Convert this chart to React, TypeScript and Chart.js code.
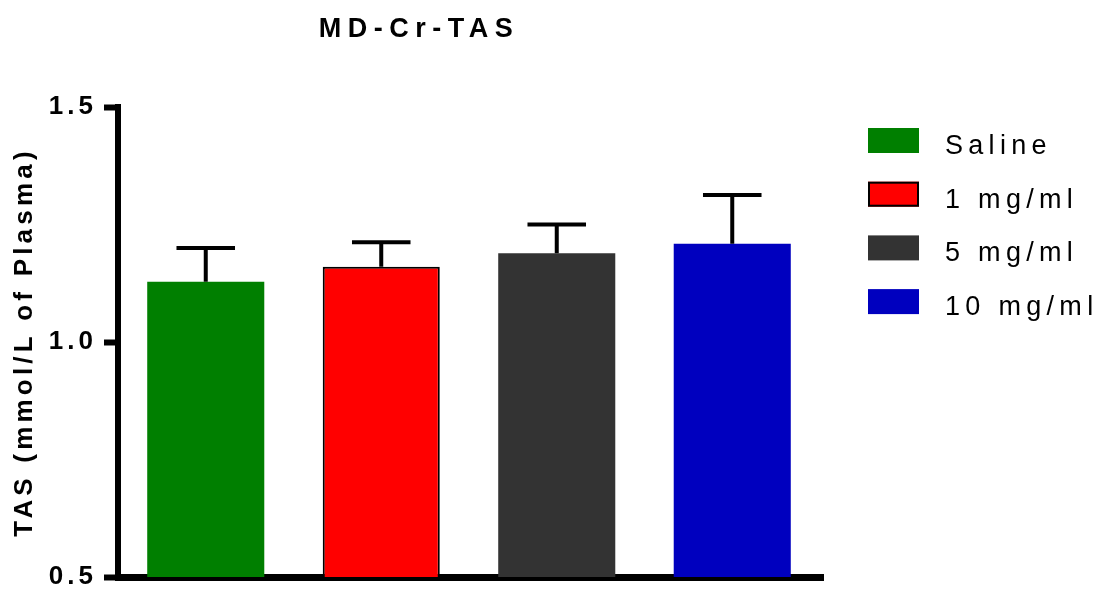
import React, { useEffect, useRef } from 'react';
import { Chart, registerables } from 'chart.js';

Chart.register(...registerables);

const titleText = 'MD-Cr-TAS';
const yAxisTitle = 'TAS (mmol/L of Plasma)';
const groups = ['Saline', '1 mg/ml', '5 mg/ml', '10 mg/ml'];
const means = [1.128, 1.16, 1.189, 1.209];
const sems = [0.072, 0.052, 0.061, 0.104];
const barColors = ['#007f00', '#ff0000', '#333333', '#0000bf'];
const barBorderWidths = [0, 2, 0, 0];
const yMin = 0.5;
const yMax = 1.5;
const yStep = 0.5;

const FONT = '"Liberation Sans", Arial, sans-serif';

const errorBarPlugin = {
  id: 'errorBars',
  afterDatasetsDraw(chart: any) {
    const ctx = chart.ctx;
    const y = chart.scales.y;
    const meta = chart.getDatasetMeta(0);
    ctx.save();
    ctx.strokeStyle = '#000';
    ctx.lineWidth = 4;
    ctx.lineCap = 'butt';
    meta.data.forEach((bar: any, i: number) => {
      const top = y.getPixelForValue(means[i]);
      const cap = y.getPixelForValue(means[i] + sems[i]);
      const half = bar.width * 0.25;
      ctx.beginPath();
      ctx.moveTo(bar.x, top);
      ctx.lineTo(bar.x, cap);
      ctx.moveTo(bar.x - half, cap);
      ctx.lineTo(bar.x + half, cap);
      ctx.stroke();
    });
    ctx.restore();
  },
};

const textPlugin = {
  id: 'customText',
  beforeDraw(chart: any) {
    (chart.ctx as any).letterSpacing = '4px';
  },
  afterDraw(chart: any) {
    const ctx = chart.ctx as any;
    ctx.letterSpacing = '0px';
    const area = chart.chartArea;

    // Title
    ctx.save();
    ctx.letterSpacing = '6.5px';
    ctx.font = `bold 27px ${FONT}`;
    ctx.fillStyle = '#000';
    ctx.textAlign = 'center';
    ctx.textBaseline = 'alphabetic';
    ctx.fillText(titleText, 419, 37);
    ctx.restore();

    // Y axis title
    ctx.save();
    ctx.letterSpacing = '4.2px';
    ctx.font = `bold 26px ${FONT}`;
    ctx.fillStyle = '#000';
    ctx.translate(32, (area.top + area.bottom) / 2);
    ctx.rotate(-Math.PI / 2);
    ctx.textAlign = 'center';
    ctx.textBaseline = 'alphabetic';
    ctx.fillText(yAxisTitle, 0, 0);
    ctx.restore();

    // Legend
    ctx.save();
    ctx.letterSpacing = '5.3px';
    ctx.font = `27px ${FONT}`;
    ctx.textAlign = 'left';
    ctx.textBaseline = 'alphabetic';
    groups.forEach((g, i) => {
      const top = 128 + i * 53.7;
      ctx.fillStyle = barColors[i];
      ctx.fillRect(868, top, 51, 25);
      if (barBorderWidths[i] > 0) {
        ctx.strokeStyle = '#000';
        ctx.lineWidth = barBorderWidths[i];
        ctx.strokeRect(868 + 1, top + 1, 49, 23);
      }
      ctx.fillStyle = '#000';
      ctx.fillText(g, 945, top + 26);
    });
    ctx.restore();
  },
};

export default function App() {
  const ref = useRef<HTMLCanvasElement | null>(null);
  useEffect(() => {
    if (!ref.current) return;
    const chart = new Chart(ref.current, {
      type: 'bar',
      data: {
        labels: groups,
        datasets: [
          {
            data: means,
            backgroundColor: barColors,
            borderColor: '#000',
            borderWidth: barBorderWidths,
            barPercentage: 0.667,
            categoryPercentage: 1,
          },
        ],
      },
      options: {
        responsive: false,
        animation: false,
        devicePixelRatio: 1,
        layout: { padding: { top: 107, right: 280, left: 0, bottom: 0 } },
        plugins: {
          legend: { display: false },
          title: { display: false },
          tooltip: { enabled: false },
        },
        scales: {
          x: {
            grid: { display: true, drawOnChartArea: false, drawTicks: false, lineWidth: 8, color: '#000' },
            border: { display: true, width: 7, color: '#000' },
            ticks: { display: false },
            afterFit: (s: any) => {
              s.height = 12;
              s.paddingLeft = 0;
              s.paddingRight = 0;
            },
          },
          y: {
            min: yMin,
            max: yMax,
            grid: {
              drawOnChartArea: false,
              drawTicks: true,
              tickLength: 14,
              tickWidth: 6,
              tickColor: '#000',
              lineWidth: 1,
            },
            border: { display: true, width: 6, color: '#000' },
            ticks: {
              stepSize: yStep,
              padding: 7,
              color: '#000',
              font: { family: FONT, size: 26, weight: 'bold' },
              callback: (v: any) => Number(v).toFixed(1),
            },
            afterFit: (s: any) => {
              s.width = 118;
              s.paddingTop = 0;
              s.paddingBottom = 0;
            },
          },
        },
      },
      plugins: [errorBarPlugin, textPlugin],
    } as any);
    return () => chart.destroy();
  }, []);
  return (
    <div style={{ position: 'absolute', left: 0, top: 0, width: 1100, height: 589 }}>
      <canvas ref={ref} width={1100} height={589} style={{ display: 'block' }} />
    </div>
  );
}
